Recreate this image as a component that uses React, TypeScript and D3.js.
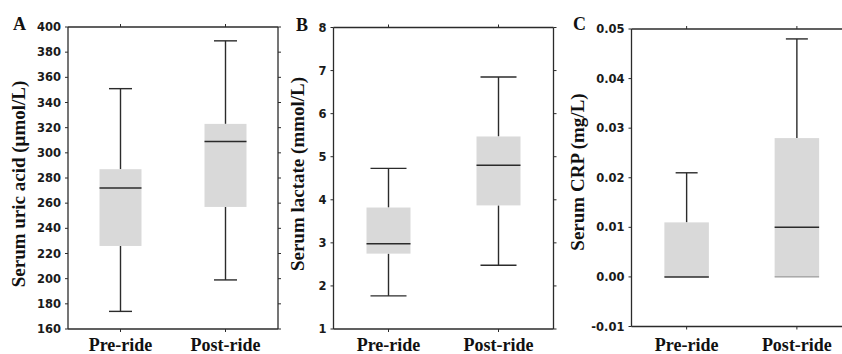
import React from "react";
import * as d3 from "d3";

const categories = ["Pre-ride", "Post-ride"];

// [min, q1, median, q3, max]
const uricAcid = [
  [174, 226, 272, 287, 351],
  [199, 257, 309, 323, 389],
];
const lactate = [
  [1.77, 2.75, 2.98, 3.82, 4.73],
  [2.48, 3.87, 4.8, 5.47, 6.85],
];
const crp = [
  [0, 0, 0, 0.011, 0.021],
  [0, 0, 0.01, 0.028, 0.048],
];

const uricTicks = [160, 180, 200, 220, 240, 260, 280, 300, 320, 340, 360, 380, 400];
const lactateTicks = [1, 2, 3, 4, 5, 6, 7, 8];
const crpTicks = [-0.01, 0, 0.01, 0.02, 0.03, 0.04, 0.05];

const hyphenMinus = (s: string) => s.replace("−", "-");

const panels = [
  {
    letter: "A", title: "Serum uric acid (μmol/L)", data: uricAcid, ticks: uricTicks,
    fmt: (v: number) => hyphenMinus(d3.format("d")(v)), domain: [160, 400],
    x0: 68, x1: 278, y0: 27, y1: 329, boxW: 42, capW: 23, rightAxis: true,
    letterX: 13, letterY: 30, titleX: 25, titleY: 184,
  },
  {
    letter: "B", title: "Serum lactate (mmol/L)", data: lactate, ticks: lactateTicks,
    fmt: (v: number) => hyphenMinus(d3.format("d")(v)), domain: [1, 8],
    x0: 333.5, x1: 553.5, y0: 27.5, y1: 329, boxW: 44, capW: 36, rightAxis: true,
    letterX: 296, letterY: 31, titleX: 304, titleY: 174,
  },
  {
    letter: "C", title: "Serum CRP (mg/L)", data: crp, ticks: crpTicks,
    fmt: (v: number) => hyphenMinus(d3.format(".2f")(v)), domain: [-0.01, 0.05],
    x0: 631.5, x1: 852, y0: 29, y1: 326.5, boxW: 44.5, capW: 22, rightAxis: false,
    letterX: 573, letterY: 30, titleX: 584, titleY: 172,
  },
];

const LINE = "#2b2b2b";
const FILL = "#d9d9d9";
const SERIF = "'Liberation Serif', 'Times New Roman', serif";
const SANS = "'DejaVu Sans', Verdana, sans-serif";

function Panel({ p }: { p: (typeof panels)[number] }) {
  const x = d3.scalePoint<string>().domain(categories).range([p.x0, p.x1]).padding(0.5);
  const y = d3.scaleLinear().domain(p.domain).range([p.y1, p.y0]);
  return (
    <g>
      {/* frame */}
      <line x1={p.x0} x2={p.x0} y1={p.y0} y2={p.y1} stroke={LINE} strokeWidth={1.3} />
      <line x1={p.x0} x2={p.x1} y1={p.y0} y2={p.y0} stroke={LINE} strokeWidth={1.3} />
      <line x1={p.x0} x2={p.x1} y1={p.y1} y2={p.y1} stroke={LINE} strokeWidth={1.3} />
      {p.rightAxis && <line x1={p.x1} x2={p.x1} y1={p.y0} y2={p.y1} stroke={LINE} strokeWidth={1.3} />}
      {/* y ticks */}
      {p.ticks.map((t) => (
        <g key={t}>
          <line x1={p.x0 - 3} x2={p.x0} y1={y(t)} y2={y(t)} stroke={LINE} strokeWidth={1} />
          {p.rightAxis && <line x1={p.x1} x2={p.x1 + 3} y1={y(t)} y2={y(t)} stroke={LINE} strokeWidth={1} />}
          <text x={p.x0 - 7} y={y(t)} dy="0.36em" textAnchor="end" fontFamily={SANS} fontWeight="bold" fontSize={11.5} fill="#1a1a1a">
            {p.fmt(t)}
          </text>
        </g>
      ))}
      {/* x ticks + labels */}
      {categories.map((c) => (
        <g key={c}>
          <line x1={x(c)} x2={x(c)} y1={p.y0 - 3} y2={p.y0} stroke={LINE} strokeWidth={1} />
          <line x1={x(c)} x2={x(c)} y1={p.y1} y2={p.y1 + 3} stroke={LINE} strokeWidth={1} />
          <text x={x(c)} y={351} textAnchor="middle" fontFamily={SERIF} fontWeight="bold" fontSize={18} fill="#111">
            {c}
          </text>
        </g>
      ))}
      {/* boxes */}
      {p.data.map((d, i) => {
        const cx = x(categories[i]) as number;
        const [mn, q1, md, q3, mx] = d;
        return (
          <g key={i}>
            {mx > q3 && <line x1={cx} x2={cx} y1={y(q3)} y2={y(mx)} stroke={LINE} strokeWidth={1.4} />}
            {mn < q1 && <line x1={cx} x2={cx} y1={y(q1)} y2={y(mn)} stroke={LINE} strokeWidth={1.4} />}
            <rect x={cx - p.boxW / 2} y={y(q3)} width={p.boxW} height={y(q1) - y(q3)} fill={FILL} />
            {mx > q3 && <line x1={cx - p.capW / 2} x2={cx + p.capW / 2} y1={y(mx)} y2={y(mx)} stroke={LINE} strokeWidth={1.4} />}
            {mn < q1 && <line x1={cx - p.capW / 2} x2={cx + p.capW / 2} y1={y(mn)} y2={y(mn)} stroke={LINE} strokeWidth={1.4} />}
            {mn === q1 && md !== q1 && (
              <line x1={cx - p.boxW / 2} x2={cx + p.boxW / 2} y1={y(mn)} y2={y(mn)} stroke="#888" strokeWidth={1} />
            )}
            <line x1={cx - p.boxW / 2} x2={cx + p.boxW / 2} y1={y(md)} y2={y(md)} stroke={LINE} strokeWidth={1.5} />
          </g>
        );
      })}
      {/* panel letter */}
      <text x={p.letterX} y={p.letterY} fontFamily={SERIF} fontWeight="bold" fontSize={18} fill="#111">
        {p.letter}
      </text>
      {/* y title */}
      <text
        transform={`translate(${p.titleX},${p.titleY}) rotate(-90)`}
        textAnchor="middle"
        fontFamily={SERIF}
        fontWeight="bold"
        fontSize={19}
        fill="#111"
      >
        {p.title}
      </text>
    </g>
  );
}

export default function App() {
  return (
    <svg
      width={842}
      height={354}
      viewBox="0 0 842 354"
      style={{ position: "absolute", left: 0, top: 0, background: "#fff" }}
    >
      <rect width={842} height={354} fill="#fff" />
      {panels.map((p) => (
        <Panel key={p.letter} p={p} />
      ))}
    </svg>
  );
}
